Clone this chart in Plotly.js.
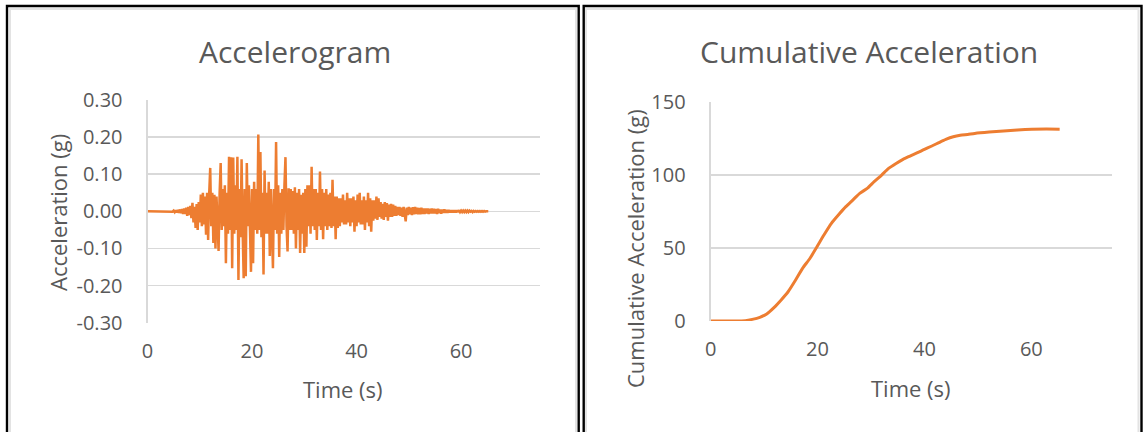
<!DOCTYPE html>
<html>
<head>
<meta charset="utf-8">
<script src="https://cdn.plot.ly/plotly-3.0.1.min.js"></script>
<style>
html,body{margin:0;padding:0;background:#fff;}
#chart{width:1144px;height:432px;}
</style>
</head>
<body>
<div id="chart"></div>
<script>
// ---------------- DATA ----------------
// Accelerogram: sampled every 0.2 s starting at 0 s (values in g)
const accelStart = 0;
const accelStep = 0.2;
const accelValues = [
  0,0,0,0,0,
  0,0,0,0,0,
  0,0,0,0,0,
  0,0,0,0,0,
  0,0.001,-0.001,0.001,-0.001,
  0.002,-0.002,0.003,-0.003,0.004,
  -0.004,0.005,-0.005,0.006,-0.007,
  0.008,-0.007,0.010,-0.012,0.012,
  -0.010,0.015,-0.018,0.023,-0.030,
  0.012,-0.045,0.020,-0.050,0.025,
  -0.030,0.045,-0.040,0.050,-0.035,
  0.040,-0.063,0.050,-0.077,0.045,
  0.117,-0.040,0.050,-0.085,0.045,
  -0.100,0.040,-0.030,-0.107,0.050,
  0.130,-0.050,0.060,-0.040,0.070,
  -0.140,0.050,-0.060,0.147,-0.050,
  0.146,-0.153,0.145,-0.060,0.070,
  -0.050,0.147,-0.185,0.060,-0.070,
  0.140,-0.050,-0.180,0.060,-0.175,
  0.130,-0.040,0.070,-0.060,-0.163,
  0.060,-0.140,0.080,-0.050,0.060,
  -0.060,0.207,-0.050,0.160,-0.070,
  0.050,-0.170,0.110,-0.060,0.050,
  -0.060,0.080,-0.120,0.060,-0.050,
  -0.153,0.060,-0.050,0.187,-0.060,
  0.070,-0.123,0.050,-0.060,0.060,
  -0.050,0.070,0.146,-0.040,-0.108,
  0.062,-0.050,0.060,-0.050,0.055,
  -0.060,0.065,-0.100,0.050,-0.050,
  0.060,-0.112,0.045,-0.060,0.050,
  -0.112,0.060,-0.095,0.070,-0.040,
  0.070,-0.060,0.120,-0.040,0.060,
  -0.050,0.060,-0.077,0.050,-0.040,
  0.107,-0.050,0.060,-0.075,0.050,
  -0.040,0.060,-0.050,0.045,-0.040,
  0.050,-0.045,0.085,-0.040,0.040,
  -0.075,0.040,-0.045,0.035,-0.040,
  0.035,-0.030,0.045,-0.035,0.030,
  -0.035,0.050,-0.030,0.035,-0.040,
  0.035,-0.030,0.040,-0.055,0.030,
  -0.040,0.045,-0.030,0.050,-0.035,
  0.030,-0.035,0.040,-0.050,0.030,
  -0.030,0.050,-0.040,0.035,-0.055,
  0.030,-0.025,0.030,-0.020,0.040,
  -0.023,0.035,-0.015,0.025,-0.020,
  0.020,-0.023,0.025,-0.015,0.022,
  -0.025,0.018,-0.015,0.020,-0.015,
  0.018,-0.012,0.015,-0.012,0.012,
  -0.010,0.012,-0.012,0.010,-0.015,
  0.012,-0.015,-0.027,0.010,-0.010,
  0.012,-0.008,0.010,-0.010,0.011,
  -0.008,0.012,-0.007,0.010,-0.008,
  0.009,-0.008,0.010,-0.007,0.008,
  -0.007,0.008,-0.006,0.008,-0.007,
  0.007,-0.006,0.008,-0.006,0.007,
  -0.006,0.006,-0.007,0.007,-0.005,
  0.005,-0.006,0.005,-0.004,0.005,
  -0.004,0.004,-0.004,0.004,-0.003,
  0.003,-0.003,0.003,-0.003,0.003,
  -0.003,0.003,-0.002,0.003,-0.002,
  0.002,-0.002,0.002,-0.002,0.002,
  -0.002,0.002,-0.002,0.002,-0.001,
  0.001,-0.002,0.001,-0.001,0.001,
  -0.001,0.001,-0.001,0.001,-0.001,
  0.001,-0.001,0.001,-0.001,0,
  0,0
];

// Cumulative acceleration
const cumTime = [0,2,4,6.5,7.8,9.2,10.5,11.9,13.2,14.5,15.9,17.2,18.6,19.9,21.2,22.6,23.9,25.3,26.6,27.9,29.3,30.6,32.0,33.3,34.7,36.0,37.3,38.7,40.0,41.4,42.7,44.0,45.4,46.7,48.1,49.4,52.1,54.8,57.4,60.1,62.8,65.3];
const cumValues = [0,0,0,0.2,1.1,2.5,4.8,9.3,14.4,20,28,36,42.9,50.8,58.8,66.8,72.5,78.2,82.7,87.3,90.7,95.3,99.8,104.4,107.8,110.6,112.8,115.1,117.4,119.7,122,124.2,126,127,127.6,128.3,129.2,129.9,130.6,131.1,131.3,131.2];

const xTicks = [0,20,40,60];
const accelTicks = [-0.3,-0.2,-0.1,0,0.1,0.2,0.3];
const cumTicks = [0,50,100,150];

const titles = {
  left: 'Accelerogram',
  right: 'Cumulative Acceleration',
  xLeft: 'Time (s)',
  xRight: 'Time (s)',
  yLeft: 'Acceleration (g)',
  yRight: 'Cumulative Acceleration (g)'
};

// ---------------- LAYOUT ----------------
const W = 1144, H = 432;
const px = x => x / W;
const py = y => 1 - y / H;
const FONT = '"Open Sans", "Noto Sans", sans-serif';
const TXT = '#595959';
const ORANGE = '#ED7D31';
const GRID = '#d9d9d9';

const traces = [
  {
    type: 'scatter', mode: 'lines',
    x0: accelStart, dx: accelStep, y: accelValues,
    xaxis: 'x', yaxis: 'y',
    line: {color: ORANGE, width: 2.5},
    hoverinfo: 'skip'
  },
  {
    type: 'scatter', mode: 'lines',
    x: cumTime, y: cumValues,
    xaxis: 'x2', yaxis: 'y2',
    line: {color: ORANGE, width: 3, shape: 'spline', smoothing: 0.6},
    hoverinfo: 'skip'
  }
];

const axBase = {
  tickfont: {family: FONT, size: 20, color: TXT},
  fixedrange: true
};

const layout = {
  width: W, height: H,
  margin: {l: 0, r: 0, t: 0, b: 0},
  paper_bgcolor: '#fff', plot_bgcolor: '#fff',
  showlegend: false,
  font: {family: FONT, color: TXT},
  xaxis: Object.assign({}, axBase, {
    domain: [px(147.5), px(539.5)],
    range: [0, 75], tickvals: xTicks, ticktext: xTicks.map(String),
    showgrid: false, zeroline: false, showline: false,
    ticks: '', ticklabelstandoff: 14,
    anchor: 'y'
  }),
  yaxis: Object.assign({}, axBase, {
    domain: [py(322.7), py(100)],
    range: [-0.3, 0.3], tickvals: accelTicks, ticktext: accelTicks.map(v => v.toFixed(2)),
    showgrid: true, gridcolor: GRID, gridwidth: 1.6,
    zeroline: false, showline: true, linecolor: GRID, linewidth: 2,
    ticks: '', ticklabelstandoff: 19,
    anchor: 'x'
  }),
  xaxis2: Object.assign({}, axBase, {
    domain: [px(710.6), px(1111.5)],
    range: [0, 75], tickvals: xTicks, ticktext: xTicks.map(String),
    showgrid: false, zeroline: false, showline: false,
    ticks: '', ticklabelstandoff: 14,
    anchor: 'y2'
  }),
  yaxis2: Object.assign({}, axBase, {
    domain: [py(321), py(101.7)],
    range: [0, 150], tickvals: cumTicks, ticktext: cumTicks.map(String),
    showgrid: true, gridcolor: GRID, gridwidth: 1.6,
    zeroline: false, showline: true, linecolor: GRID, linewidth: 2,
    ticks: '', ticklabelstandoff: 19,
    anchor: 'x2'
  }),
  annotations: [
    {text: titles.left, x: px(294.5), y: py(51), xref: 'paper', yref: 'paper', xanchor: 'center', yanchor: 'middle', showarrow: false, font: {family: FONT, size: 30, color: TXT}},
    {text: titles.right, x: px(868.6), y: py(51), xref: 'paper', yref: 'paper', xanchor: 'center', yanchor: 'middle', showarrow: false, font: {family: FONT, size: 30, color: TXT}},
    {text: titles.xLeft, x: px(343), y: py(389), xref: 'paper', yref: 'paper', xanchor: 'center', yanchor: 'middle', showarrow: false, font: {family: FONT, size: 22, color: TXT}},
    {text: titles.xRight, x: px(911), y: py(388), xref: 'paper', yref: 'paper', xanchor: 'center', yanchor: 'middle', showarrow: false, font: {family: FONT, size: 22, color: TXT}},
    {text: titles.yLeft, x: px(57.5), y: py(212.5), xref: 'paper', yref: 'paper', xanchor: 'center', yanchor: 'middle', textangle: -90, showarrow: false, font: {family: FONT, size: 22, color: TXT}},
    {text: titles.yRight, x: px(634.5), y: py(248.5), xref: 'paper', yref: 'paper', xanchor: 'center', yanchor: 'middle', textangle: -90, showarrow: false, font: {family: FONT, size: 22, color: TXT}}
  ],
  shapes: [
    {type: 'rect', xref: 'paper', yref: 'paper', x0: px(10), x1: px(576), y0: py(9), y1: py(445), line: {color: '#e3e3e3', width: 2}},
    {type: 'rect', xref: 'paper', yref: 'paper', x0: px(586), x1: px(1138.5), y0: py(9), y1: py(445), line: {color: '#e3e3e3', width: 2}},
    {type: 'rect', xref: 'paper', yref: 'paper', x0: px(7), x1: px(578.7), y0: py(6), y1: py(445), line: {color: '#000', width: 2.4}},
    {type: 'rect', xref: 'paper', yref: 'paper', x0: px(583.7), x1: px(1141.5), y0: py(6), y1: py(445), line: {color: '#000', width: 2.4}}
  ]
};

Plotly.newPlot('chart', traces, layout, {staticPlot: true, displayModeBar: false});
</script>
</body>
</html>
